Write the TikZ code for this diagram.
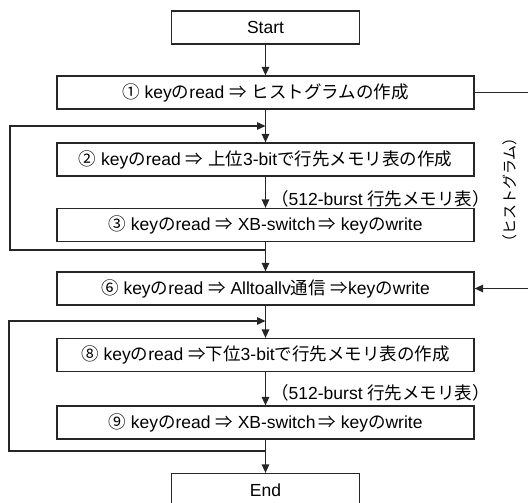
\documentclass[tikz,border=0pt]{standalone}
\usepackage{fontspec}
\setmainfont{Liberation Sans}
\newfontfamily\jp{Noto Sans CJK JP}
\usetikzlibrary{arrows.meta}
\begin{document}
\begin{tikzpicture}[x=1pt,y=-1pt,
  stepbox/.style={draw=black!85, line width=1.2pt, rectangle, inner sep=0pt,
    minimum width=417pt, minimum height=33pt, font=\fontsize{17.5}{20}\selectfont},
  termbox/.style={stepbox, minimum width=188pt},
  wire/.style={draw=black!85, line width=1.4pt, line join=miter},
  flow/.style={wire, -{Triangle[length=8.5pt,width=7.5pt]}},
  note/.style={anchor=west, inner sep=0pt, font=\fontsize{17.5}{20}\selectfont},
]
\useasboundingbox (0,0) rectangle (528,503);

% main column of steps
\node[termbox] (start) at (265.5,27.5) {Start};
\node[stepbox] (s1) at (265.5,92.5) {{\jp ①} key{\jp の}read {\jp ⇒} {\jp ヒストグラムの作成}};
\node[stepbox] (s2) at (265.5,159.5) {{\jp ②} key{\jp の}read {\jp ⇒} {\jp 上位}3-bit{\jp で行先メモリ表の作成}};
\node[stepbox] (s3) at (265.5,225) {{\jp ③} key{\jp の}read {\jp ⇒} XB-switch\,{\jp ⇒} key{\jp の}write};
\node[stepbox] (s6) at (265.5,288.5) {{\jp ⑥} key{\jp の}read {\jp ⇒} Alltoallv{\jp 通信} {\jp ⇒}key{\jp の}write};
\node[stepbox] (s8) at (265.5,355) {{\jp ⑧} key{\jp の}read {\jp ⇒下位}3-bit{\jp で行先メモリ表の作成}};
\node[stepbox] (s9) at (265.5,422.5) {{\jp ⑨} key{\jp の}read {\jp ⇒} XB-switch\,{\jp ⇒} key{\jp の}write};
\node[termbox] (end) at (265.5,490) {End};

% notes on the edges
\node[note] (t23) at (271,199) {{\jp （}512-burst {\jp 行先メモリ表）}};
\node[note] (t89) at (271,393) {{\jp （}512-burst {\jp 行先メモリ表）}};
\node[rotate=90, inner sep=0pt, font=\jp\fontsize{15}{17}\selectfont] (hist) at (510,190) {（ヒストグラム）};

% junction points and loop corners
\coordinate (j1) at (265.5,126);
\coordinate (j2) at (265.5,250);
\coordinate (c1a) at (10,126);
\coordinate (c1b) at (10,250);
\coordinate (j3) at (265.5,321);
\coordinate (j4) at (265.5,451);
\coordinate (c2a) at (9,321);
\coordinate (c2b) at (9,451);
\coordinate (hout) at (535,92.5);
\coordinate (hin) at (535,288.5);

% straight flow
\draw[flow] (start) -- (s1);
\draw[flow] (s1) -- (s2);
\draw[flow] (s2) -- (s3);
\draw[flow] (s3) -- (s6);
\draw[flow] (s6) -- (s8);
\draw[flow] (s8) -- (s9);
\draw[flow] (s9) -- (end);

% repeat loops
\draw[flow] (j2) -- (c1b) -- (c1a) -- (j1);
\draw[flow] (j4) -- (c2b) -- (c2a) -- (j3);

% histogram handed over to step 6
\draw[wire] (s1.east) -- (hout);
\draw[flow] (hin) -- (s6.east);
\end{tikzpicture}
\end{document}
